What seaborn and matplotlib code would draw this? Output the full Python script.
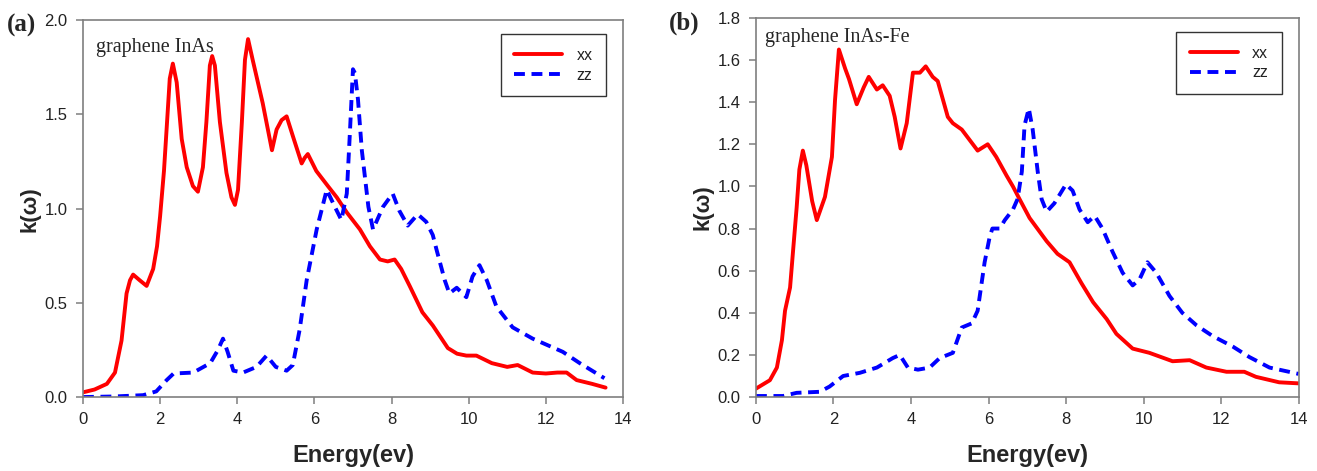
import matplotlib
matplotlib.use("Agg")
import matplotlib.pyplot as plt
import seaborn as sns
import numpy as np

# ---- graphene InAs : extinction coefficient k(w) ----
a_xx_e = [0, 0.3, 0.62, 0.83, 1.0, 1.13, 1.22, 1.3, 1.47, 1.65, 1.82, 1.92, 2.0, 2.1, 2.18,
          2.25, 2.33, 2.43, 2.56, 2.69, 2.85, 2.98, 3.11, 3.2, 3.29, 3.35, 3.42, 3.55, 3.72,
          3.85, 3.94, 4.02, 4.12, 4.2, 4.28, 4.4, 4.66, 4.9, 5.02, 5.15, 5.28, 5.45, 5.67,
          5.75, 5.83, 6.05, 6.35, 6.58, 6.84, 7.18, 7.44, 7.7, 7.9, 8.08, 8.25, 8.47, 8.8,
          9.07, 9.46, 9.7, 9.94, 10.2, 10.6, 11.0, 11.27, 11.66, 12.0, 12.3, 12.54, 12.8,
          13.2, 13.55]
a_xx_k = [0.025, 0.04, 0.07, 0.13, 0.30, 0.55, 0.62, 0.65, 0.62, 0.59, 0.68, 0.80, 0.96, 1.2,
          1.46, 1.69, 1.77, 1.67, 1.37, 1.22, 1.12, 1.09, 1.22, 1.46, 1.76, 1.81, 1.76, 1.46,
          1.19, 1.06, 1.02, 1.10, 1.46, 1.79, 1.90, 1.79, 1.56, 1.31, 1.42, 1.47, 1.49, 1.38,
          1.24, 1.27, 1.29, 1.2, 1.12, 1.06, 0.98, 0.89, 0.80, 0.73, 0.72, 0.73, 0.68, 0.59,
          0.45, 0.38, 0.26, 0.23, 0.22, 0.22, 0.18, 0.16, 0.17, 0.13, 0.125, 0.13, 0.13, 0.09,
          0.07, 0.05]

a_zz_e = [0, 0.8, 1.56, 1.9, 2.17, 2.35, 2.86, 3.3, 3.5, 3.63, 3.75, 3.9, 4.15, 4.5, 4.76,
          5.0, 5.28, 5.44, 5.62, 5.8, 6.06, 6.32, 6.53, 6.7, 6.84, 6.92, 7.0, 7.05, 7.13,
          7.23, 7.4, 7.52, 7.78, 8.03, 8.2, 8.42, 8.68, 8.9, 9.07, 9.17, 9.38, 9.5, 9.69,
          9.94, 10.1, 10.28, 10.47, 10.72, 11.14, 11.66, 12.44, 12.88, 13.52]
a_zz_k = [0.0, 0.003, 0.01, 0.03, 0.09, 0.125, 0.13, 0.18, 0.25, 0.31, 0.24, 0.14, 0.13, 0.16,
          0.22, 0.16, 0.14, 0.17, 0.36, 0.62, 0.89, 1.10, 1.01, 0.94, 1.08, 1.40, 1.74, 1.72,
          1.58, 1.31, 1.01, 0.89, 1.01, 1.08, 0.99, 0.91, 0.97, 0.93, 0.86, 0.78, 0.62, 0.55,
          0.58, 0.53, 0.64, 0.70, 0.62, 0.48, 0.37, 0.31, 0.24, 0.18, 0.10]

# ---- graphene InAs-Fe ----
b_xx_e = [0, 0.36, 0.54, 0.67, 0.75, 0.88, 0.96, 1.05, 1.12, 1.21, 1.3, 1.45, 1.57, 1.78,
          1.96, 2.04, 2.14, 2.3, 2.4, 2.6, 2.78, 2.91, 3.12, 3.27, 3.45, 3.58, 3.73, 3.89,
          4.05, 4.23, 4.38, 4.56, 4.69, 4.95, 5.08, 5.31, 5.72, 5.98, 6.2, 6.47, 6.63, 6.8,
          7.06, 7.5, 7.78, 8.09, 8.4, 8.7, 9.05, 9.3, 9.72, 10.15, 10.75, 11.19, 11.62,
          12.14, 12.6, 12.9, 13.5, 14.0]
b_xx_k = [0.04, 0.08, 0.14, 0.27, 0.41, 0.52, 0.70, 0.9, 1.08, 1.17, 1.1, 0.93, 0.84, 0.95,
          1.14, 1.41, 1.65, 1.56, 1.51, 1.39, 1.47, 1.52, 1.46, 1.48, 1.43, 1.33, 1.18, 1.30,
          1.54, 1.54, 1.57, 1.52, 1.50, 1.33, 1.30, 1.27, 1.17, 1.20, 1.14, 1.05, 1.00, 0.94,
          0.85, 0.74, 0.68, 0.64, 0.54, 0.45, 0.37, 0.30, 0.23, 0.21, 0.17, 0.175, 0.14,
          0.12, 0.12, 0.096, 0.07, 0.065]

b_zz_e = [0, 0.7, 1.05, 1.65, 1.9, 2.25, 2.68, 3.12, 3.53, 3.71, 3.92, 4.18, 4.48, 4.74,
          5.08, 5.31, 5.57, 5.72, 5.9, 6.03, 6.1, 6.29, 6.42, 6.63, 6.75, 6.86, 6.93, 7.04,
          7.14, 7.27, 7.37, 7.5, 7.7, 8.0, 8.17, 8.35, 8.56, 8.74, 8.94, 9.2, 9.46,
          9.72, 9.9, 10.1, 10.33, 10.67, 11.0, 11.37, 11.78, 12.3, 12.73, 13.25, 14.0]
b_zz_k = [0.005, 0.005, 0.02, 0.025, 0.05, 0.10, 0.115, 0.14, 0.185, 0.20, 0.14, 0.13, 0.14,
          0.185, 0.21, 0.33, 0.35, 0.41, 0.64, 0.76, 0.80, 0.80, 0.84, 0.89, 0.94, 1.07, 1.29,
          1.37, 1.27, 1.07, 0.94, 0.88, 0.92, 1.01, 0.98, 0.89, 0.83, 0.86, 0.80, 0.69,
          0.59, 0.53, 0.56, 0.64, 0.59, 0.48, 0.40, 0.34, 0.29, 0.24, 0.19, 0.14, 0.11]

panel_tags = ["(a)", "(b)"]
panel_names = ["graphene InAs", "graphene InAs-Fe"]
series_names = ["xx", "zz"]
y_limits = [2.0, 1.8]
y_steps = [0.5, 0.2]
x_ticks = [0, 2, 4, 6, 8, 10, 12, 14]

sns.set_style("ticks")
plt.rcParams["font.family"] = ["Liberation Sans", "DejaVu Sans"]

fig = plt.figure(figsize=(13.17, 4.71), dpi=100)
ax_a = fig.add_axes([0.063, 0.157, 0.410, 0.800])
ax_b = fig.add_axes([0.574, 0.157, 0.412, 0.805])

panels = [
    (ax_a, a_xx_e, a_xx_k, a_zz_e, a_zz_k),
    (ax_b, b_xx_e, b_xx_k, b_zz_e, b_zz_k),
]
name_pos = [(0.024, 0.928), (0.017, 0.947)]

spine_gray = "#7f7f7f"
for i, (ax, xe, xk, ze, zk) in enumerate(panels):
    sns.lineplot(x=xe, y=xk, ax=ax, color="#ff0000", linewidth=2.8,
                 label=series_names[0], estimator=None, sort=False)
    sns.lineplot(x=ze, y=zk, ax=ax, color="#0000ff", linewidth=2.8,
                 linestyle=(0, (2.8, 1.7)), label=series_names[1],
                 estimator=None, sort=False)
    for ln in ax.get_lines():
        ln.set_solid_joinstyle("round")
        ln.set_dash_joinstyle("round")

    ax.set_xlim(0, 14)
    ax.set_ylim(0, y_limits[i])
    ax.set_xticks(x_ticks)
    ax.set_xticklabels([str(t) for t in x_ticks])
    yt = np.round(np.arange(0, y_limits[i] + 1e-9, y_steps[i]), 2)
    ax.set_yticks(yt)
    ax.set_yticklabels([f"{v:.1f}" for v in yt])

    for s in ax.spines.values():
        s.set_visible(True)
        s.set_color(spine_gray)
        s.set_linewidth(1.2)
    ax.tick_params(direction="out", length=5, width=1.1, color=spine_gray,
                   labelsize=12, labelcolor="#222222", pad=6)

    ax.set_xlabel("Energy(ev)", fontsize=17, fontweight="bold", labelpad=12)
    ax.set_ylabel("k(\u03c9)", fontsize=16, fontweight="bold", labelpad=3)

    ax.text(name_pos[i][0], name_pos[i][1], panel_names[i], transform=ax.transAxes,
            fontsize=14.5, family="Liberation Serif", va="center", ha="left")

    leg = ax.legend(loc="upper right", bbox_to_anchor=(0.969, 0.963),
                    borderaxespad=0, fancybox=False, frameon=True,
                    edgecolor="black", fontsize=11.5, handlelength=3.0,
                    handletextpad=0.9, labelspacing=0.3, borderpad=0.85)
    leg.get_frame().set_linewidth(1.0)
    for t in leg.get_texts():
        t.set_color("#222222")

fig.text(0.005, 0.947, panel_tags[0], fontsize=18, fontweight="bold",
         family="Liberation Serif", va="center", ha="left")
fig.text(0.508, 0.951, panel_tags[1], fontsize=18, fontweight="bold",
         family="Liberation Serif", va="center", ha="left")

fig.savefig("out.png", dpi=100)
